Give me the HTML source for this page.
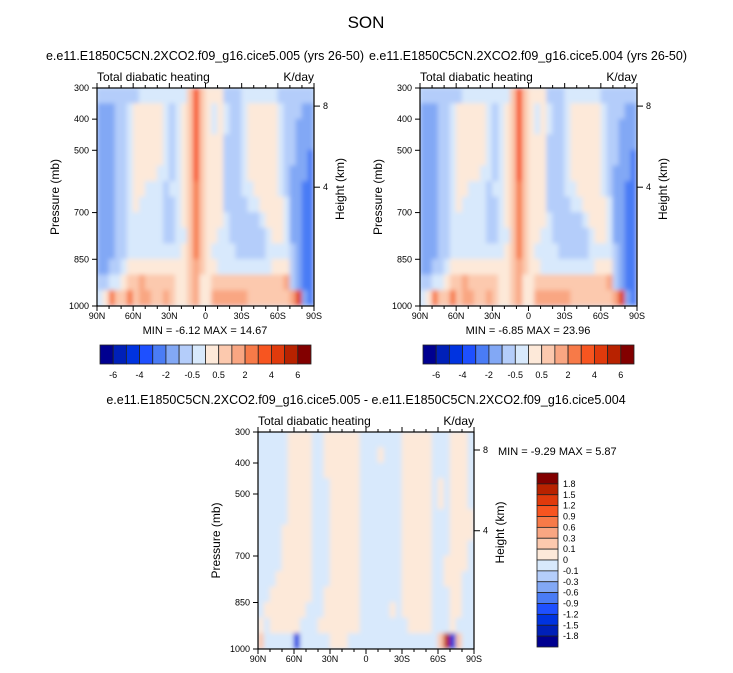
<!DOCTYPE html>
<html><head><meta charset="utf-8"><style>
body{margin:0;background:#fff;}
svg{display:block;font-family:"Liberation Sans",sans-serif;}
</style></head><body>
<svg id="c" width="733" height="673" xmlns="http://www.w3.org/2000/svg">
<defs><filter id="bl" x="0" y="0" width="1" height="1"><feGaussianBlur stdDeviation="2.5"/></filter></defs>
<text x="366" y="28" font-size="17" text-anchor="middle">SON</text>
</svg>
<script>
const palette=["#000090","#0020b8","#0033e0","#1e50ff","#4a7cf5","#82a8f5","#b4cdfa","#d8e9fc","#fde9d9","#fcc9ae","#f9a682","#f77a48","#f75520","#e03a0c","#b82200","#820000"];
const latLabels=["90N","60N","30N","0","30S","60S","90S"];
const presTicks=[300,400,500,700,850,1000];
const heightTicks=[8,4];
const heightTickFrac=[0.083,0.455];
const cbLabelsTop=["-6","-4","-2","-0.5","0.5","2","4","6"];
const cbLabelsDiff=["1.8","1.5","1.2","0.9","0.6","0.3","0.1","0","-0.1","-0.3","-0.6","-0.9","-1.2","-1.5","-1.8"];
// data grids (36 lat cols x 14 pressure rows), hex = palette index
const gridMean=[
"6666"+"666"+"777777"+"77"+"9c9"+"888"+"666"+"777777"+"666666",
"5556"+"67"+"88888"+"76"+"78"+"9c9"+"878"+"766"+"7"+"88888"+"7"+"66"+"655",
"5556"+"67"+"88888"+"76"+"78"+"9c9"+"878"+"766"+"7"+"88888"+"7"+"66"+"555",
"5556"+"67"+"88888"+"76"+"78"+"9c9"+"888"+"666"+"7"+"88888"+"7"+"66"+"555",
"5556"+"67"+"88888"+"76"+"78"+"9c9"+"888"+"666"+"7"+"88888"+"7"+"66"+"554",
"5556"+"67"+"88887"+"76"+"78"+"9c9"+"888"+"666"+"7"+"88888"+"7"+"65"+"554",
"5556"+"67"+"88777"+"67"+"78"+"9b9"+"888"+"666"+"7"+"78888"+"7"+"65"+"544",
"5556"+"67"+"87777"+"66"+"78"+"9b9"+"888"+"666"+"6"+"77888"+"8"+"75"+"544",
"5556"+"67"+"77777"+"66"+"78"+"9b9"+"888"+"766"+"6"+"66788"+"8"+"75"+"544",
"5556"+"67"+"77777"+"66"+"77"+"9b9"+"887"+"766"+"6"+"66678"+"8"+"75"+"544",
"5556"+"67"+"77777"+"77"+"78"+"9b9"+"877"+"776"+"6"+"66677"+"7"+"76"+"544",
"5566"+"78"+"88888"+"88"+"88"+"9a9"+"887"+"777"+"7"+"77778"+"8"+"86"+"544",
"6677"+"89"+"9a999"+"99"+"88"+"9a8"+"899"+"999"+"9"+"99999"+"9"+"a6"+"544",
"78b9"+"9b"+"9aa99"+"a9"+"88"+"9a8"+"8aa"+"aaa"+"a"+"99999"+"9"+"9a"+"d54"];
const gridDiff=[
"77777"+"8888"+"77"+"888888"+"777"+"7777"+"88888"+"777"+"888"+"7",
"77777"+"8888"+"77"+"888888"+"777"+"8777"+"88888"+"777"+"888"+"7",
"77777"+"8888"+"77"+"888888"+"777"+"7777"+"88888"+"777"+"888"+"7",
"77777"+"8888"+"77"+"788888"+"777"+"7777"+"88888"+"787"+"888"+"7",
"77777"+"8888"+"77"+"788888"+"777"+"7777"+"88888"+"787"+"888"+"7",
"77777"+"8888"+"77"+"788888"+"777"+"7777"+"88888"+"777"+"888"+"8",
"77778"+"8888"+"77"+"788888"+"777"+"7777"+"88888"+"777"+"888"+"8",
"77778"+"8888"+"77"+"788888"+"777"+"7777"+"88888"+"777"+"888"+"7",
"77778"+"8888"+"77"+"788888"+"777"+"7777"+"88888"+"778"+"888"+"7",
"77788"+"8888"+"77"+"788888"+"777"+"7777"+"88888"+"778"+"887"+"7",
"77888"+"8888"+"77"+"888888"+"777"+"7777"+"88888"+"777"+"887"+"7",
"78888"+"8887"+"77"+"888888"+"777"+"7787"+"88888"+"777"+"887"+"7",
"87888"+"8877"+"78"+"888888"+"777"+"7777"+"78888"+"777"+"877"+"7",
"97777"+"7277"+"77"+"788877"+"777"+"7777"+"77777"+"79e"+"297"+"7"];
const NS="http://www.w3.org/2000/svg";
const svg=document.getElementById('c');
function mk(tag,attrs,parent){const e=document.createElementNS(NS,tag);for(const k in attrs)e.setAttribute(k,attrs[k]);(parent||svg).appendChild(e);return e;}
function txt(x,y,s,size,anchor,parent){const t=mk('text',{x:x,y:y,'font-size':size,'text-anchor':anchor||'start'},parent);t.textContent=s;return t;}

function panel(id,x0,y0,w,h,grid,title,minmax,mmx,mmy,mmAnchor){
  const g=mk('g',{});
  
  
  const xs=lat=>x0+w*(lat/36);
  const ys=p=>y0+h*(p-300)/700;
  const clipId=id+'-clip';
  const cp=mk('clipPath',{id:clipId},g);mk('rect',{x:x0,y:y0,width:w,height:h},cp);
  const fg=mk('g',{'clip-path':'url(#'+clipId+')'},g);
  const fl=mk('g',{filter:'url(#bl)'},fg);
  mk('rect',{x:x0-4,y:y0-4,width:w+8,height:h+8,fill:palette[7]},fl);
  grid.forEach((row,r)=>{
    for(let c=0;c<36;c++){
      const v=parseInt(row[c],16);
      const cell=mk('rect',{x:xs(c)-0.3,y:ys(300+50*r)-0.3,width:w/36+0.6,height:h/14+0.6,fill:palette[v]},fl);
      
      
    }
  });
  mk('rect',{x:x0,y:y0,width:w,height:h,fill:'none',stroke:'#000','stroke-width':1.2},g);
  for(let k=0;k<=18;k++){const x=x0+w*k/18;mk('line',{x1:x,x2:x,y1:y0+h,y2:y0+h+(k%3==0?5:3),stroke:'#000'},g);mk('line',{x1:x,x2:x,y1:y0,y2:y0-(k%3==0?5:3),stroke:'#000'},g);}
  latLabels.forEach((l,i)=>{const t=txt(x0+w*i/6,y0+h+13,l,9,'middle',g);});
  presTicks.forEach(p=>{const y=ys(p);mk('line',{x1:x0-5,x2:x0,y1:y,y2:y,stroke:'#000'},g);const t=txt(x0-8,y+3,String(p),9,'end',g);});
  heightTicks.forEach((hv,i)=>{const y=y0+h*heightTickFrac[i];mk('line',{x1:x0+w,x2:x0+w+6,y1:y,y2:y,stroke:'#000'},g);txt(x0+w+9,y+3,String(hv),9,'start',g);});
  const yl=txt(0,0,'Pressure (mb)',12,'middle',g);yl.setAttribute('transform','translate('+(x0-38)+','+(y0+h/2)+') rotate(-90)');
  const yr=txt(0,0,'Height (km)',12,'middle',g);yr.setAttribute('transform','translate('+(x0+w+30)+','+(y0+h/2-8)+') rotate(-90)');
  const lt=txt(x0,y0-7,'Total diabatic heating',12,'start',g);
  const ut=txt(x0+w,y0-7,'K/day',12,'end',g);
  const tt=txt(title[1],title[2],title[0],12.5,'middle',g);
  const mm=txt(mmx,mmy,minmax,11,mmAnchor,g);
}
function hbar(id,x0,y0,w,h){
  const g=mk('g',{});
  const bw=w/16;
  palette.forEach((c,i)=>{mk('rect',{x:x0+i*bw,y:y0,width:bw,height:h,fill:c,stroke:'#222','stroke-width':0.8},g);});
  cbLabelsTop.forEach((l,i)=>{txt(x0+bw*(2*i+1),y0+h+14,l,9,'middle',g);});
}
function vbar(id,x0,y0,w,h){
  const g=mk('g',{});
  const bh=h/16;
  palette.slice().reverse().forEach((c,i)=>{mk('rect',{x:x0,y:y0+i*bh,width:w,height:bh,fill:c,stroke:'#222','stroke-width':0.8},g);});
  cbLabelsDiff.forEach((l,i)=>{txt(x0+w+5,y0+bh*(i+1)+3,l,9,'start',g);});
}
panel('left-panel',97,88,217,218,gridMean,['e.e11.E1850C5CN.2XCO2.f09_g16.cice5.005 (yrs 26-50)',205,60],'MIN =  -6.12  MAX =  14.67',205,334,'middle');
panel('right-panel',420,88,217,218,gridMean,['e.e11.E1850C5CN.2XCO2.f09_g16.cice5.004 (yrs 26-50)',528,60],'MIN =  -6.85  MAX =  23.96',528,334,'middle');
panel('diff-panel',258,432,216,217,gridDiff,['e.e11.E1850C5CN.2XCO2.f09_g16.cice5.005 - e.e11.E1850C5CN.2XCO2.f09_g16.cice5.004',366,404],'MIN =  -9.29  MAX =   5.87',498,455,'start');
hbar('left-colorbar',100,345,211,19);
hbar('right-colorbar',423,345,211,19);
vbar('diff-colorbar',537,473,21,174);
</script>
</body></html>
